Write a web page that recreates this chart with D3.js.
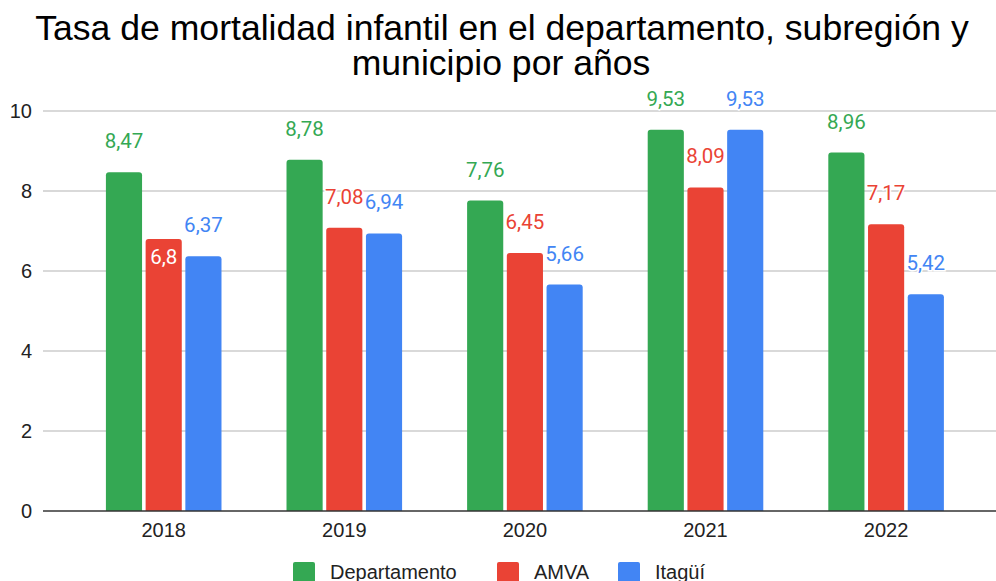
<!DOCTYPE html>
<html>
<head>
<meta charset="UTF-8">
<script src="https://cdn.jsdelivr.net/npm/d3@7"></script>
<style>
body{ margin:0; background:#fff; }
</style>
</head>
<body>
<script>

// data
var years = ["2018", "2019", "2020", "2021", "2022"];
var seriesNames = ["Departamento", "AMVA", "Itagüí"];
var departamento = [8.47, 8.78, 7.76, 9.53, 8.96];
var amva = [6.8, 7.08, 6.45, 8.09, 7.17];
var itagui = [6.37, 6.94, 5.66, 9.53, 5.42];
var yTicks = [0, 2, 4, 6, 8, 10];
// labels google put inside the bar (collision)
var labelsInside = ["2018|AMVA"];

var width = 996;
var height = 581;
var colors = ["#34a853", "#ea4335", "#4285f4"];

var values = [departamento, amva, itagui];
var rows = years.map(function(y, i) {
    return seriesNames.map(function(s, j) {
        return {year: y, series: s, value: values[j][i], k: j};
    });
});

var svg = d3.select('body')
    .append('svg')
    .attr('width', width)
    .attr('height', height);

var y = d3.scaleLinear().domain([0, 10]).range([511, 111]);

var x = d3.scaleBand()
    .domain(years)
    .range([73.4, 976.4])
    .paddingInner(0.36)
    .paddingOuter(0.18);

var xs = d3.scaleBand()
    .domain(seriesNames)
    .range([0, x.bandwidth()])
    .paddingInner(0.09);

// title
var title = svg.append("text")
    .attr("text-anchor", "middle")
    .attr("font-family", "Liberation Sans, Arial")
    .attr("font-size", 35.6)
    .attr("fill", "#000");
title.append("tspan").attr("x", 502).attr("y", 40)
    .text("Tasa de mortalidad infantil en el departamento, subregión y");
title.append("tspan").attr("x", 501).attr("y", 75)
    .text("municipio por años");

// grid
svg.append("g")
    .selectAll("line")
    .data(yTicks.filter(function(d){ return d > 0; }))
    .enter().append("line")
    .attr("x1", 43).attr("x2", width)
    .attr("y1", function(d){ return y(d); })
    .attr("y2", function(d){ return y(d); })
    .attr("stroke", "#cccccc")
    .attr("stroke-width", 1.5);

// y labels
svg.append("g")
    .selectAll("text")
    .data(yTicks)
    .enter().append("text")
    .attr("x", 32)
    .attr("y", function(d){ return y(d); })
    .attr("dy", "0.36em")
    .attr("text-anchor", "end")
    .attr("font-family", "Liberation Sans, Arial")
    .attr("font-size", 20)
    .attr("fill", "#222")
    .text(function(d){ return d; });

// bars
var groups = svg.append("g")
    .selectAll("g")
    .data(rows)
    .enter().append("g")
    .attr("transform", function(d){ return "translate(" + x(d[0].year) + ",0)"; });

groups.selectAll("path")
    .data(function(d){ return d; })
    .enter().append("path")
    .attr("d", function(d) {
        var x0 = xs(d.series), w = xs.bandwidth(), t = y(d.value), b = y(0), r = 3;
        return "M" + x0 + "," + b + "V" + (t + r) + "Q" + x0 + "," + t + " " + (x0 + r) + "," + t +
            "H" + (x0 + w - r) + "Q" + (x0 + w) + "," + t + " " + (x0 + w) + "," + (t + r) + "V" + b + "Z";
    })
    .attr("fill", function(d){ return colors[d.k]; });

// baseline
svg.append("line")
    .attr("x1", 43).attr("x2", width)
    .attr("y1", y(0)).attr("y2", y(0))
    .attr("stroke", "#333")
    .attr("stroke-width", 1.5);

// x labels
svg.append("g")
    .selectAll("text")
    .data(years)
    .enter().append("text")
    .attr("x", function(d){ return x(d) + x.bandwidth() / 2; })
    .attr("y", 537)
    .attr("text-anchor", "middle")
    .attr("font-family", "Liberation Sans, Arial")
    .attr("font-size", 20)
    .attr("fill", "#222")
    .text(function(d){ return d; });

// value labels
groups.selectAll("text")
    .data(function(d){ return d; })
    .enter().append("text")
    .each(function(d) {
        var inside = labelsInside.indexOf(d.year + "|" + d.series) >= 0;
        d3.select(this)
            .attr("x", xs(d.series) + xs.bandwidth() / 2)
            .attr("y", inside ? y(d.value) + 25 : y(d.value) - 24)
            .attr("fill", inside ? "#fff" : colors[d.k])
            .attr("stroke", inside ? "none" : "#fff")
            .attr("stroke-width", 3)
            .attr("paint-order", "stroke");
    })
    .attr("text-anchor", "middle")
    .attr("font-family", "Roboto")
    .attr("font-size", 20.5)
    .text(function(d){ return String(d.value).replace(".", ","); });

// legend
var legendX = [293, 497, 618];
var legend = svg.append("g")
    .selectAll("g")
    .data(seriesNames)
    .enter().append("g")
    .attr("transform", function(d, i){ return "translate(" + legendX[i] + ",562)"; });

legend.append("rect")
    .attr("width", 22).attr("height", 22)
    .attr("rx", 2)
    .attr("fill", function(d, i){ return colors[i]; });

legend.append("text")
    .attr("x", 37)
    .attr("y", 17)
    .attr("font-family", "Liberation Sans, Arial")
    .attr("font-size", 20)
    .attr("fill", "#222")
    .text(function(d){ return d; });

</script>
</body>
</html>
